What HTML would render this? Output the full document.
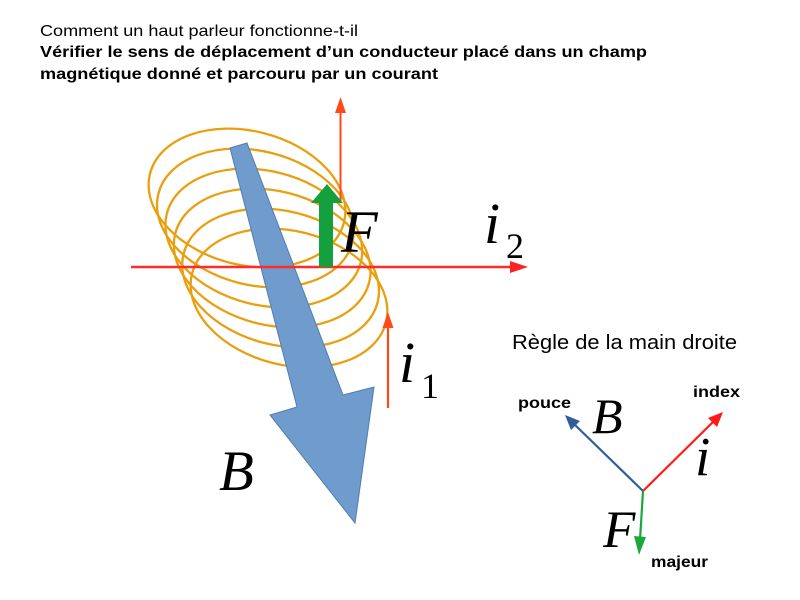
<!DOCTYPE html>
<html>
<head>
<meta charset="utf-8">
<style>
  html,body{margin:0;padding:0;background:#fff;}
  body{width:800px;height:600px;overflow:hidden;}
  svg{display:block;}
  .sans{font-family:"Liberation Sans",Arial,sans-serif;}
  .math{font-family:"Liberation Serif","Times New Roman",serif;font-style:italic;}
  .mathu{font-family:"Liberation Serif","Times New Roman",serif;}
</style>
</head>
<body>
<svg width="800" height="600" viewBox="0 0 800 600" xmlns="http://www.w3.org/2000/svg">
  <!-- Titles -->
  <text x="40" y="36" class="sans" font-size="16" fill="#000" textLength="318" lengthAdjust="spacingAndGlyphs">Comment un haut parleur fonctionne-t-il</text>
  <text x="40" y="57" class="sans" font-size="16" font-weight="bold" fill="#000" textLength="607" lengthAdjust="spacingAndGlyphs">Vérifier le sens de déplacement d’un conducteur placé dans un champ</text>
  <text x="40" y="79" class="sans" font-size="16" font-weight="bold" fill="#000" textLength="398" lengthAdjust="spacingAndGlyphs">magnétique donné et parcouru par un courant</text>

  <!-- Coil -->
  <g fill="none" stroke="#e8a010" stroke-width="2.3">
    <ellipse cx="247" cy="198" rx="100" ry="67" transform="rotate(14 247 198)"/>
    <ellipse cx="255.4" cy="218" rx="100" ry="67" transform="rotate(14 255.4 218)"/>
    <ellipse cx="263.8" cy="238" rx="100" ry="67" transform="rotate(14 263.8 238)"/>
    <ellipse cx="272.2" cy="258" rx="100" ry="67" transform="rotate(14 272.2 258)"/>
    <ellipse cx="280.6" cy="278" rx="100" ry="67" transform="rotate(14 280.6 278)"/>
    <ellipse cx="289" cy="298" rx="100" ry="67" transform="rotate(14 289 298)"/>
  </g>

  <!-- Big blue arrow B -->
  <polygon points="230,148 247,143 343,395 374,387 355,523 270,415 297,407" fill="#6f9bcd" stroke="#4f7db2" stroke-width="1"/>

  <!-- Red horizontal line i2 -->
  <line x1="131" y1="267" x2="512" y2="267" stroke="#ff2a2a" stroke-width="2.6"/>
  <polygon points="510,261 528,267 510,273" fill="#ff2020"/>

  <!-- Red vertical line (top) -->
  <line x1="340.5" y1="202" x2="340.5" y2="110" stroke="#ff4b1c" stroke-width="2"/>
  <polygon points="335,113 340.5,97 346,113" fill="#ff4b1c"/>

  <!-- i1 arrow -->
  <line x1="388" y1="408" x2="388" y2="325" stroke="#ff4b1c" stroke-width="2.2"/>
  <polygon points="382.5,328 388,312 393.5,328" fill="#ff4b1c"/>

  <!-- Green arrow F -->
  <polygon points="319,267 333,267 333,203 343,203 327,184 311,203 319,203" fill="#14a03c"/>

  <!-- Labels main -->
  <text x="341" y="252" class="math" font-size="60" fill="#000">F</text>
  <text x="484" y="243" class="math" font-size="58" fill="#000">i</text>
  <text x="506" y="258" class="mathu" font-size="36" fill="#000">2</text>
  <text x="399" y="382" class="math" font-size="58" fill="#000">i</text>
  <text x="421" y="398" class="mathu" font-size="36" fill="#000">1</text>
  <text x="219" y="490" class="math" font-size="57" fill="#000">B</text>

  <!-- Right: rule -->
  <text x="512" y="349" class="sans" font-size="20" fill="#000" textLength="225" lengthAdjust="spacingAndGlyphs">Règle de la main droite</text>

  <!-- Right diagram vectors -->
  <line x1="643" y1="491" x2="574" y2="424" stroke="#2f5f9a" stroke-width="2.2"/>
  <polygon points="565,415 580,421 571,430" fill="#2f5f9a"/>
  <line x1="643" y1="491" x2="714" y2="421" stroke="#ff1a1a" stroke-width="2.2"/>
  <polygon points="723,412 717,427 708,418" fill="#ff1a1a"/>
  <line x1="643" y1="491" x2="640" y2="540" stroke="#1aa83a" stroke-width="2.2"/>
  <polygon points="634,536 646,537 639,555" fill="#1aa83a"/>

  <text x="518" y="408" class="sans" font-size="16" font-weight="bold" fill="#000" textLength="53" lengthAdjust="spacingAndGlyphs">pouce</text>
  <text x="693" y="397" class="sans" font-size="16" font-weight="bold" fill="#000" textLength="47" lengthAdjust="spacingAndGlyphs">index</text>
  <text x="651" y="567" class="sans" font-size="16" font-weight="bold" fill="#000" textLength="57" lengthAdjust="spacingAndGlyphs">majeur</text>
  <text x="592" y="433" class="math" font-size="50" fill="#000">B</text>
  <text x="695" y="475" class="math" font-size="55" fill="#000">i</text>
  <text x="603" y="547" class="math" font-size="53" fill="#000">F</text>
</svg>
</body>
</html>
